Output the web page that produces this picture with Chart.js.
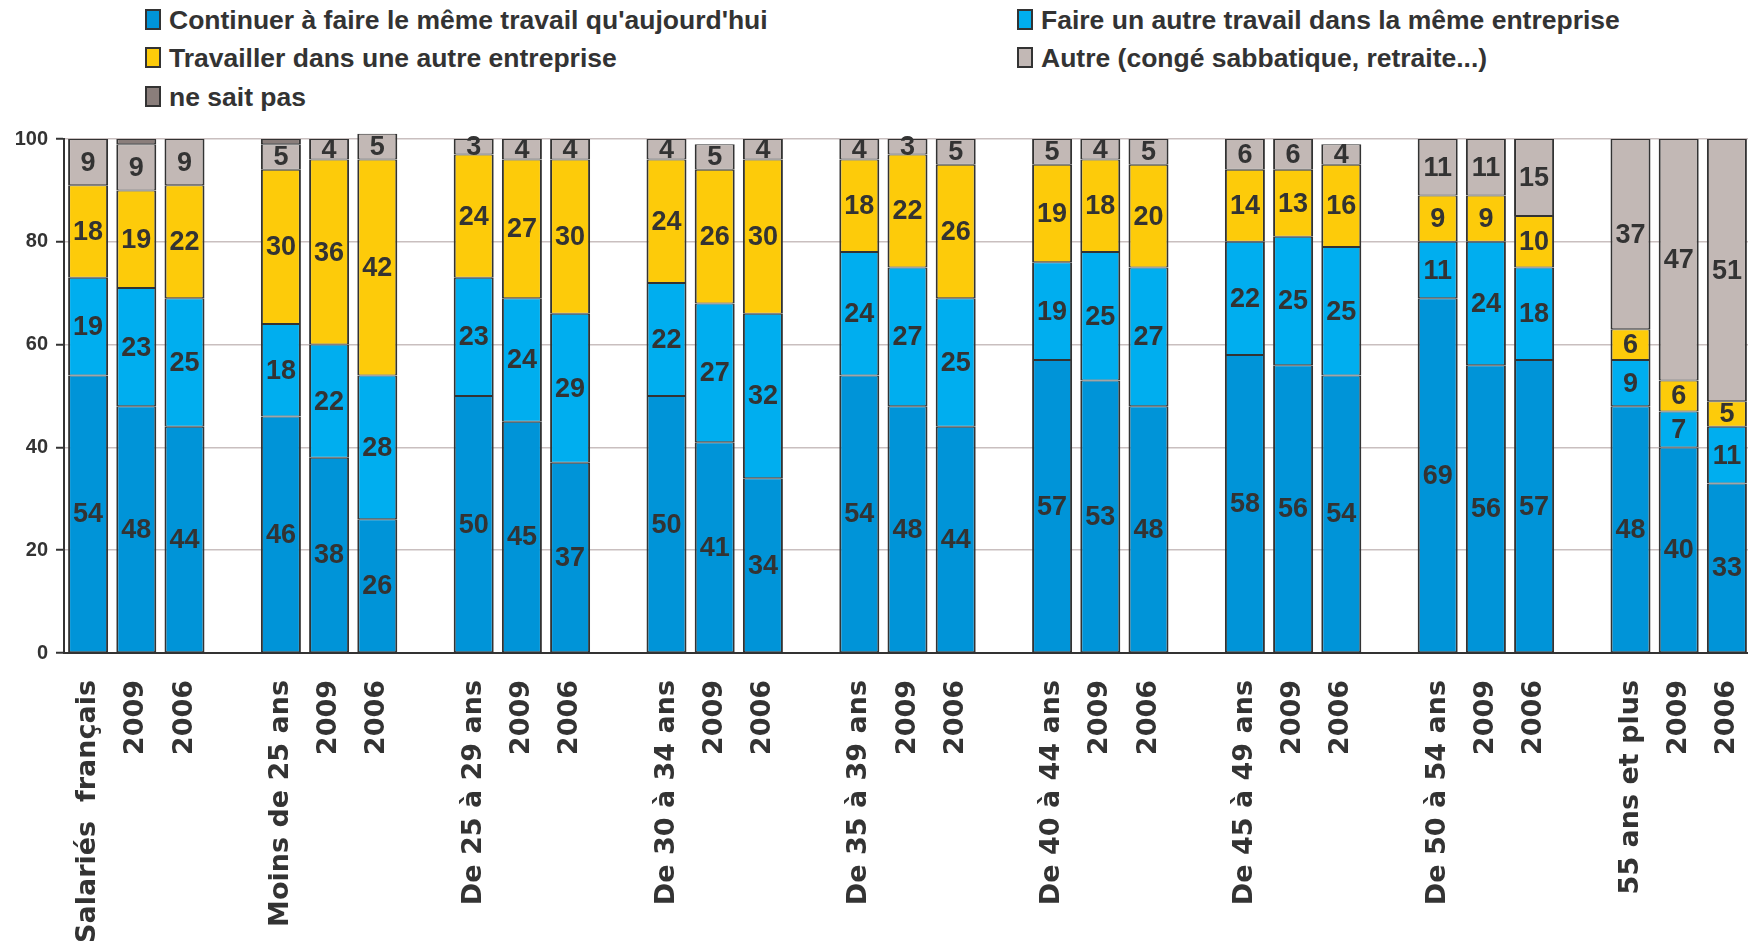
<!DOCTYPE html>
<html lang="fr">
<head>
<meta charset="UTF-8">
<title>Projets professionnels des salariés</title>
<script src="https://cdn.jsdelivr.net/npm/chart.js"></script>
<style>
  body { margin: 0; background: #fff; overflow: hidden; width: 1748px; height: 947px; position: relative; }
  #wrap { position: absolute; left: 0; top: 0; width: 1762px; height: 947px; }
  .leg { position: absolute; font: bold 26.5px "Liberation Sans", Arial, sans-serif; color: #333; white-space: nowrap; line-height: 30px; }
  .leg .box { display: inline-block; width: 12px; height: 17px; border: 2px solid #333; vertical-align: -1px; margin-right: 8px; }
</style>
</head>
<body>
<div id="legend"></div>
<div id="wrap"><canvas id="chart"></canvas></div>
<script>
// categories (empty strings = gaps between age groups)
const categories = [
  'Salariés  français', '2009', '2006', '',
  'Moins de 25 ans', '2009', '2006', '',
  'De 25 à 29 ans', '2009', '2006', '',
  'De 30 à 34 ans', '2009', '2006', '',
  'De 35 à 39 ans', '2009', '2006', '',
  'De 40 à 44 ans', '2009', '2006', '',
  'De 45 à 49 ans', '2009', '2006', '',
  'De 50 à 54 ans', '2009', '2006', '',
  '55 ans et plus', '2009', '2006'
];

const continuer = [54, 48, 44, null, 46, 38, 26, null, 50, 45, 37, null, 50, 41, 34, null, 54, 48, 44, null, 57, 53, 48, null, 58, 56, 54, null, 69, 56, 57, null, 48, 40, 33];
const autreTravail = [19, 23, 25, null, 18, 22, 28, null, 23, 24, 29, null, 22, 27, 32, null, 24, 27, 25, null, 19, 25, 27, null, 22, 25, 25, null, 11, 24, 18, null, 9, 7, 11];
const autreEntreprise = [18, 19, 22, null, 30, 36, 42, null, 24, 27, 30, null, 24, 26, 30, null, 18, 22, 26, null, 19, 18, 20, null, 14, 13, 16, null, 9, 9, 10, null, 6, 6, 5];
const autre = [9, 9, 9, null, 5, 4, 5, null, 3, 4, 4, null, 4, 5, 4, null, 4, 3, 5, null, 5, 4, 5, null, 6, 6, 4, null, 11, 11, 15, null, 37, 47, 51];
const neSaitPas = [null, 1, null, null, 1, null, null, null, null, null, null, null, null, null, null, null, null, null, null, null, null, null, null, null, null, null, null, null, null, null, null, null, null, null, null];

const yTicks = [0, 20, 40, 60, 80, 100];

const seriesNames = [
  "Continuer à faire le même travail qu'aujourd'hui",
  'Faire un autre travail dans la même entreprise',
  'Travailler dans une autre entreprise',
  'Autre (congé sabbatique, retraite...)',
  'ne sait pas'
];
const seriesColors = ['#0094D8', '#00AEEF', '#FDCB0A', '#C2B8B5', '#8A7E7B'];
const seriesData = [continuer, autreTravail, autreEntreprise, autre, neSaitPas];

// values written in the middle of each segment
const valueLabels = {
  id: 'valueLabels',
  afterDatasetsDraw(chart) {
    const ctx = chart.ctx;
    ctx.save();
    ctx.font = 'bold 27px "Liberation Sans", Arial, sans-serif';
    ctx.fillStyle = '#333';
    ctx.textAlign = 'center';
    ctx.textBaseline = 'middle';
    chart.data.datasets.forEach((ds, i) => {
      if (i === 4) return;
      chart.getDatasetMeta(i).data.forEach((bar, j) => {
        const v = ds.data[j];
        if (!v) return;
        const p = bar.getProps(['x', 'y', 'base'], true);
        ctx.fillText(String(v), p.x, (p.y + p.base) / 2 + 1);
      });
    });
    ctx.restore();
  }
};

const chart = new Chart(document.getElementById('chart'), {
  type: 'bar',
  data: {
    labels: categories,
    datasets: seriesData.map((d, i) => ({
      label: seriesNames[i],
      data: d,
      backgroundColor: seriesColors[i],
      borderColor: '#333',
      borderWidth: { top: 1, bottom: 1, left: 2, right: 2 },
      borderSkipped: false,
      barPercentage: 0.83,
      categoryPercentage: 1,
      clip: false
    }))
  },
  options: {
    responsive: true,
    maintainAspectRatio: false,
    animation: false,
    layout: { padding: { top: 139, right: 11, left: 0, bottom: 0 } },
    plugins: { legend: { display: false }, tooltip: { enabled: false } },
    scales: {
      x: {
        stacked: true,
        grid: { display: false, drawTicks: false },
        border: { color: '#333', width: 2 },
        ticks: {
          autoSkip: false, minRotation: 90, maxRotation: 90, padding: 27,
          color: '#333', font: { family: 'DejaVu Sans', weight: 'bold', size: 27 }
        },
        afterFit(s) { s.height = 294; s.paddingLeft = 0; s.paddingRight = 0; }
      },
      y: {
        stacked: true,
        min: 0, max: 100,
        afterBuildTicks(s) { s.ticks = yTicks.map(v => ({ value: v })); },
        grid: { color: '#C9BFBF', lineWidth: 1.5, tickLength: 8, tickColor: '#333', tickWidth: 2 },
        border: { color: '#333', width: 2 },
        ticks: {
          padding: 8, color: '#333',
          font: { family: 'Liberation Sans', weight: 'bold', size: 20 }
        },
        afterFit(s) { s.width = 64; }
      }
    }
  },
  plugins: [valueLabels]
});

// two-column legend built from the datasets
const legendPos = [[145, 5], [1017, 5], [145, 43], [1017, 43], [145, 82]];
const legendEl = document.getElementById('legend');
chart.data.datasets.forEach((ds, i) => {
  const item = document.createElement('div');
  item.className = 'leg';
  item.style.left = legendPos[i][0] + 'px';
  item.style.top = legendPos[i][1] + 'px';
  const box = document.createElement('span');
  box.className = 'box';
  box.style.background = ds.backgroundColor;
  item.appendChild(box);
  item.appendChild(document.createTextNode(ds.label));
  legendEl.appendChild(item);
});
</script>
</body>
</html>
